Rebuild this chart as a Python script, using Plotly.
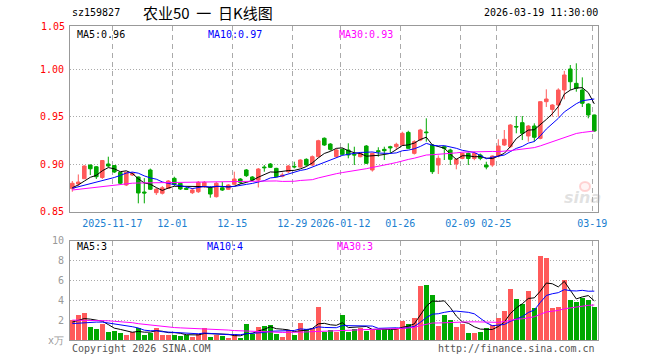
import plotly.graph_objects as go
import pandas as pd
import numpy as np

# ---------------- data ----------------
dates = (
    ["2025-11-%02d" % d for d in [6, 7, 10, 11, 12, 13, 14, 17, 18, 19, 20, 21, 24, 25, 26, 27, 28]]
    + ["2025-12-%02d" % d for d in [1, 2, 3, 4, 5, 8, 9, 10, 11, 12, 15, 16, 17, 18, 19, 22, 23, 24, 25, 26, 29, 30, 31]]
    + ["2026-01-%02d" % d for d in [5, 6, 7, 8, 9, 12, 13, 14, 15, 16, 19, 20, 21, 22, 23, 26, 27, 28, 29, 30]]
    + ["2026-02-%02d" % d for d in [2, 3, 4, 5, 6, 9, 10, 11, 12, 13, 24, 25, 26, 27]]
    + ["2026-03-%02d" % d for d in [2, 3, 4, 5, 6, 9, 10, 11, 12, 13, 16, 17, 18, 19]]
)

opens = [0.8740, 0.8790, 0.8845, 0.8989, 0.8971, 0.8858, 0.9000, 0.8984, 0.8911, 0.8779,
         0.8884, 0.8863, 0.8705, 0.8937, 0.8698, 0.8692, 0.8744, 0.8849, 0.8797, 0.8744,
         0.8698, 0.8708, 0.8761, 0.8750, 0.8656, 0.8750, 0.8734, 0.8786, 0.8842, 0.8937,
         0.8863, 0.8831, 0.8968, 0.9000, 0.8954, 0.8870, 0.8919, 0.8975, 0.8968, 0.9049,
         0.8989, 0.9077, 0.9271, 0.9210, 0.9077, 0.9154, 0.9147, 0.9100, 0.9077, 0.9189,
         0.8937, 0.9140, 0.9154, 0.9182, 0.9182, 0.9200, 0.9333, 0.9112, 0.9252, 0.9337,
         0.9200, 0.8989, 0.9182, 0.9147, 0.9000, 0.9058, 0.9112, 0.9058, 0.9095, 0.8989,
         0.8989, 0.9084, 0.9200, 0.9182, 0.9395, 0.9435, 0.9295, 0.9400, 0.9270, 0.9656,
         0.9575, 0.9621, 0.9779, 1.0000, 0.9849, 0.9779, 0.9631, 0.9516]
highs = [0.8821, 0.8890, 0.8986, 0.8995, 0.8979, 0.9042, 0.9077, 0.8989, 0.8916, 0.8916,
         0.8916, 0.8868, 0.8851, 0.8952, 0.8747, 0.8768, 0.8831, 0.8866, 0.8800, 0.8758,
         0.8747, 0.8821, 0.8821, 0.8768, 0.8810, 0.8810, 0.8789, 0.8919, 0.8852, 0.8947,
         0.8873, 0.8958, 0.8989, 0.9010, 0.8960, 0.8910, 0.8990, 0.9024, 0.9050, 0.9060,
         0.9090, 0.9255, 0.9280, 0.9220, 0.9160, 0.9165, 0.9218, 0.9182, 0.9120, 0.9200,
         0.9120, 0.9176, 0.9182, 0.9192, 0.9224, 0.9340, 0.9350, 0.9250, 0.9370, 0.9481,
         0.9210, 0.9090, 0.9190, 0.9160, 0.9060, 0.9120, 0.9120, 0.9130, 0.9110, 0.9024,
         0.9090, 0.9260, 0.9358, 0.9420, 0.9505, 0.9505, 0.9410, 0.9428, 0.9660, 0.9786,
         0.9630, 0.9797, 0.9980, 1.0042, 1.0060, 0.9912, 0.9640, 0.9520]
lows = [0.8708, 0.8770, 0.8842, 0.8884, 0.8842, 0.8842, 0.8968, 0.8905, 0.8789, 0.8768,
        0.8874, 0.8586, 0.8586, 0.8726, 0.8674, 0.8679, 0.8737, 0.8768, 0.8726, 0.8726,
        0.8684, 0.8695, 0.8747, 0.8645, 0.8647, 0.8716, 0.8726, 0.8779, 0.8789, 0.8863,
        0.8821, 0.8753, 0.8919, 0.8958, 0.8860, 0.8860, 0.8905, 0.8954, 0.8960, 0.8980,
        0.8980, 0.9070, 0.9190, 0.9140, 0.9070, 0.9090, 0.9060, 0.8989, 0.9070, 0.9000,
        0.8920, 0.9077, 0.9042, 0.9112, 0.9147, 0.9190, 0.9160, 0.9100, 0.9240, 0.9235,
        0.8895, 0.8895, 0.9042, 0.8989, 0.8944, 0.9050, 0.8989, 0.9040, 0.9040, 0.8944,
        0.8970, 0.9070, 0.9190, 0.9170, 0.9323, 0.9252, 0.9235, 0.9235, 0.9260, 0.9600,
        0.9498, 0.9498, 0.9681, 0.9779, 0.9761, 0.9600, 0.9481, 0.9340]
closes = [0.8797, 0.8810, 0.8979, 0.8950, 0.8866, 0.9037, 0.8979, 0.8916, 0.8797, 0.8913,
          0.8902, 0.8695, 0.8695, 0.8734, 0.8734, 0.8750, 0.8821, 0.8786, 0.8737, 0.8734,
          0.8726, 0.8807, 0.8807, 0.8684, 0.8797, 0.8726, 0.8779, 0.8842, 0.8807, 0.8877,
          0.8831, 0.8947, 0.8961, 0.8965, 0.8866, 0.8884, 0.8979, 0.8970, 0.9042, 0.8989,
          0.9077, 0.9245, 0.9200, 0.9154, 0.9147, 0.9102, 0.9095, 0.9095, 0.9112, 0.9007,
          0.9112, 0.9130, 0.9140, 0.9171, 0.9207, 0.9323, 0.9165, 0.9235, 0.9358, 0.9330,
          0.8919, 0.9060, 0.9165, 0.9049, 0.9049, 0.9112, 0.9058, 0.9112, 0.9060, 0.8968,
          0.9084, 0.9189, 0.9260, 0.9410, 0.9390, 0.9323, 0.9400, 0.9281, 0.9656, 0.9684,
          0.9621, 0.9779, 0.9937, 0.9866, 0.9797, 0.9639, 0.9516, 0.9347]
volumes = [2.05, 2.55, 2.75, 1.38, 1.15, 1.65, 0.82, 0.95, 0.75, 0.55,
           0.82, 1.25, 0.55, 0.78, 1.28, 0.55, 0.55, 0.55, 0.45, 0.55,
           0.38, 0.62, 1.28, 0.35, 0.55, 0.45, 0.22, 0.65, 0.22, 1.65,
           0.62, 1.38, 1.48, 1.55, 0.65, 0.38, 1.05, 0.60, 1.78, 1.15,
           1.22, 3.35, 0.88, 1.05, 0.88, 2.55, 0.88, 1.15, 1.28, 0.95,
           1.05, 1.05, 1.15, 1.05, 1.15, 1.98, 1.65, 2.28, 5.45, 5.60,
           4.60, 1.48, 2.55, 2.05, 1.38, 1.65, 0.78, 0.78, 0.88, 1.28,
           1.55, 2.28, 2.98, 5.15, 4.15, 3.65, 4.95, 3.28, 8.50, 8.25,
           3.28, 3.38, 6.05, 4.05, 3.88, 4.30, 4.05, 3.38]

ma5_head = [0.8750, 0.8780, 0.8820, 0.8860]
ma10_head = [0.8744, 0.8760, 0.8776, 0.8790, 0.8805, 0.8820, 0.8838, 0.8858, 0.8880]
ma30_head = [0.8726, 0.8733, 0.8741, 0.8750, 0.8758, 0.8766, 0.8774, 0.8782, 0.8789, 0.8794,
             0.8798, 0.8800, 0.8801, 0.8801, 0.8801, 0.8801, 0.8802, 0.8802, 0.8802, 0.8802,
             0.8803, 0.8804, 0.8805, 0.8806, 0.8807, 0.8808, 0.8810, 0.8812, 0.8814]
vma5_head = [1.80, 2.00, 2.15, 2.10]
vma10_head = [1.65, 1.70, 1.75, 1.78, 1.80, 1.80, 1.72, 1.62, 1.55]
vma30_head = [2.00, 2.00, 2.00, 1.99, 1.98, 1.96, 1.93, 1.88, 1.84, 1.80,
              1.74, 1.64, 1.57, 1.52, 1.42, 1.36, 1.31, 1.25, 1.22, 1.20,
              1.18, 1.16, 1.13, 1.09, 1.06, 1.03, 1.00, 0.95, 0.92]

tick_dates = ["2025-11-17", "2025-12-01", "2025-12-15", "2025-12-29", "2026-01-12",
              "2026-01-26", "2026-02-09", "2026-02-25", "2026-03-19"]
tick_labels = ["2025-11-17", "12-01", "12-15", "12-29", "2026-01-12",
               "01-26", "02-09", "02-25", "03-19"]
price_ticks = [0.85, 0.90, 0.95, 1.00]
price_tick_labels = ["0.85", "0.90", "0.95", "1.00"]
top_price_label = "1.05"
vol_ticks = [0, 2, 4, 6, 8, 10]
vol_tick_labels = ["x万", "2", "4", "6", "8", "10"]

code = "sz159827"
title = "农业50\u00a0\u00a0一\u00a0\u00a0日K线图"
stamp = "2026-03-19 11:30:00"

# ---------------- helpers ----------------
def ma(values, n, head):
    s = pd.Series(values, dtype=float).rolling(n).mean().to_numpy()
    s[: n - 1] = head
    return s

x = list(range(len(dates)))
ma5 = ma(closes, 5, ma5_head)
ma10 = ma(closes, 10, ma10_head)
ma30 = ma(closes, 30, ma30_head)
vma5 = ma(volumes, 5, vma5_head)
vma10 = ma(volumes, 10, vma10_head)
vma30 = ma(volumes, 30, vma30_head)

RED = "#ff5a5a"
GREEN = "#00a800"
MONO = "DejaVu Sans Mono"
W, H = 660, 360
ML, MR, MT, MB = 70, 62, 26, 20
PW, PH = W - ML - MR, H - MT - MB

def px(xp):
    return (xp - ML) / PW

def py(yp):
    return (H - MB - yp) / PH

main_dom = [py(211.5), 1.0]
vol_dom = [0.0, py(240.5)]
xr = [(ML - 72.3) / 6.0, (W - MR - 72.3) / 6.0]
ymax = 0.85 + (211.5 - MT) / 950.0

fig = go.Figure()

fig.add_trace(go.Candlestick(
    x=x, open=opens, high=highs, low=lows, close=closes,
    increasing=dict(line=dict(color=RED, width=1), fillcolor=RED),
    decreasing=dict(line=dict(color=GREEN, width=1), fillcolor=GREEN),
    whiskerwidth=0, xaxis="x", yaxis="y", hoverinfo="skip", showlegend=False,
))
for arr, col in [(ma5, "#000000"), (ma10, "#0000ff"), (ma30, "#ff00ff")]:
    fig.add_trace(go.Scatter(x=x, y=arr, mode="lines", line=dict(color=col, width=1),
                             xaxis="x", yaxis="y", hoverinfo="skip", showlegend=False))

vcol = [RED if c >= o else GREEN for o, c in zip(opens, closes)]
fig.add_trace(go.Bar(x=x, y=volumes, marker=dict(color=vcol, line=dict(width=0)), width=0.8,
                     xaxis="x2", yaxis="y2", hoverinfo="skip", showlegend=False))
for arr, col in [(vma5, "#000000"), (vma10, "#0000ff"), (vma30, "#ff00ff")]:
    fig.add_trace(go.Scatter(x=x, y=arr, mode="lines", line=dict(color=col, width=1),
                             xaxis="x2", yaxis="y2", hoverinfo="skip", showlegend=False))

tickpos = [dates.index(d) - 1.0 / 3.0 for d in tick_dates]
common_x = dict(range=xr, showline=True, mirror=True, linecolor="#999999", linewidth=1,
                showgrid=True, gridcolor="#aaaaaa", griddash="5px,4px", gridwidth=1,
                zeroline=False, tickvals=tickpos, ticks="", fixedrange=True)
common_y = dict(showline=True, mirror=True, linecolor="#999999", linewidth=1,
                showgrid=True, gridcolor="#aaaaaa", griddash="1px,2px", gridwidth=1,
                zeroline=False, ticks="", fixedrange=True)

fig.update_layout(
    width=W, height=H,
    margin=dict(l=ML, r=MR, t=MT, b=MB),
    paper_bgcolor="white", plot_bgcolor="white",
    boxgap=0.15,
    bargap=0,
    xaxis=dict(common_x, anchor="y", domain=[0, 1], ticktext=tick_labels,
               tickfont=dict(family=MONO, size=10, color="#1a80d0"),
               rangeslider=dict(visible=False), ticklabelstandoff=2),
    xaxis2=dict(common_x, anchor="y2", domain=[0, 1], matches="x", showticklabels=False),
    yaxis=dict(common_y, domain=main_dom, range=[0.85, ymax], tickvals=price_ticks,
               ticktext=price_tick_labels, tickfont=dict(family=MONO, size=10, color="#ff0000"),
               ticklabelstandoff=3),
    yaxis2=dict(common_y, domain=vol_dom, range=[0, 10], tickvals=vol_ticks,
                ticktext=vol_tick_labels, tickfont=dict(family=MONO, size=10, color="#999999"),
                ticklabelstandoff=3),
    showlegend=False,
)

ann = []
def txt(t, xp, yp, color="#000000", anchor="left", size=10, family=MONO):
    ann.append(dict(text=t, x=px(xp), y=py(yp), xref="paper", yref="paper",
                    xanchor=anchor, yanchor="middle", showarrow=False,
                    font=dict(family=family, size=size, color=color)))

txt(top_price_label, 67, 26, "#ff0000", "right")
txt(code, 70, 12)
txt(title, 208, 12, anchor="center", size=15, family="Noto Sans CJK SC")
txt(stamp, 600, 12, anchor="right")
txt("MA5:%.2f" % ma5[-1], 75, 34)
txt("MA10:%.2f" % ma10[-1], 206, 34, "#0000ff")
txt("MA30:%.2f" % ma30[-1], 337, 34, "#ff00ff")
txt("MA5:%d" % int(vma5[-1]), 75, 246.5)
txt("MA10:%d" % int(vma10[-1]), 205, 246.5, "#0000ff")
txt("MA30:%d" % int(vma30[-1]), 335, 246.5, "#ff00ff")
txt("Copyright 2026 SINA.COM", 70, 348, "#555555")
txt("http://finance.sina.com.cn", 597, 348, "#555555", "right")
# faint sina watermark
ann.append(dict(text="<b><i>sina</i></b>", x=px(582), y=py(197), xref="paper", yref="paper",
                xanchor="center", yanchor="middle", showarrow=False,
                font=dict(family="DejaVu Sans", size=16, color="rgba(170,170,170,0.35)")))
fig.update_layout(annotations=ann)
fig.add_shape(type="circle", xref="paper", yref="paper",
              x0=px(580), x1=px(590), y0=py(191), y1=py(182),
              line=dict(color="rgba(255,120,120,0.3)", width=2), fillcolor="rgba(255,200,200,0.2)")

fig.write_html("out.html", config={"displayModeBar": False})
